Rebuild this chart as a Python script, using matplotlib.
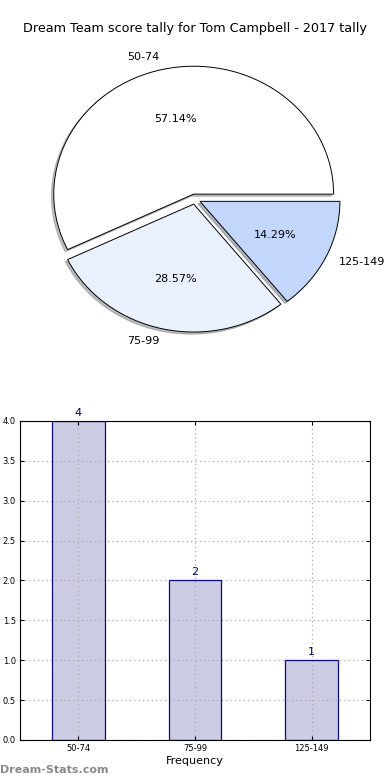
import matplotlib
matplotlib.use('Agg')
import matplotlib.pyplot as plt

title = 'Dream Team score tally for Tom Campbell - 2017 tally'
ranges = ['50-74', '75-99', '125-149']
counts = [4, 2, 1]
pie_colors = ['#ffffff', '#eaf1fe', '#c3d7fd']

fig = plt.figure(figsize=(3.9, 7.8), dpi=100)

# pie on top
ax1 = fig.add_axes([0.0513, 0.5397, 0.897, 0.41])
ax1.pie(counts, labels=ranges, colors=pie_colors, autopct='%1.2f%%',
        explode=[0.04, 0.04, 0.04], startangle=0,
        shadow={'ox': -0.012, 'oy': -0.012, 'shade': 0.5},
        wedgeprops={'edgecolor': 'black', 'linewidth': 0.7},
        textprops={'fontsize': 8})
ax1.set_aspect('auto')
ax1.set_xlim(-1.25, 1.25)
ax1.set_ylim(-1.25, 1.25)
ax1.set_title(title, fontsize=9.2, pad=5)

# bar chart below - fill under the grid, outline above it
ax2 = fig.add_axes([0.0513, 0.0513, 0.897, 0.409])
x = list(range(len(ranges)))
ax2.bar(x, counts, width=0.45, color='#ccccE5', linewidth=0, zorder=2)
ax2.bar(x, counts, width=0.45, fill=False, edgecolor='#0a0a8a', linewidth=0.9, zorder=4)
for xi, c in zip(x, counts):
    ax2.text(xi, c + 0.04, str(c), ha='center', va='bottom', color='navy', fontsize=8)
ax2.set_xlim(-0.5, 2.5)
ax2.set_ylim(0, 4)
ax2.set_xticks(x)
ax2.set_xticklabels(ranges)
ax2.set_yticks([0, 0.5, 1, 1.5, 2, 2.5, 3, 3.5, 4])
ax2.set_yticklabels(['0.0', '0.5', '1.0', '1.5', '2.0', '2.5', '3.0', '3.5', '4.0'])
ax2.tick_params(labelsize=6, direction='in', top=True, right=True, length=3, pad=3)
ax2.grid(True, linestyle=(0, (1, 2.5)), color='#aaaaaa', linewidth=0.9, zorder=3)
ax2.set_axisbelow(False)
ax2.set_xlabel('Frequency', fontsize=8, labelpad=2)
for s in ax2.spines.values():
    s.set_linewidth(0.8)
    s.set_zorder(5)

fig.text(0.0, 0.013, 'Dream-Stats.com', color='#8a8a8a', fontsize=8,
         fontweight='semibold', ha='left', va='center')

fig.savefig('out.png', dpi=100)
